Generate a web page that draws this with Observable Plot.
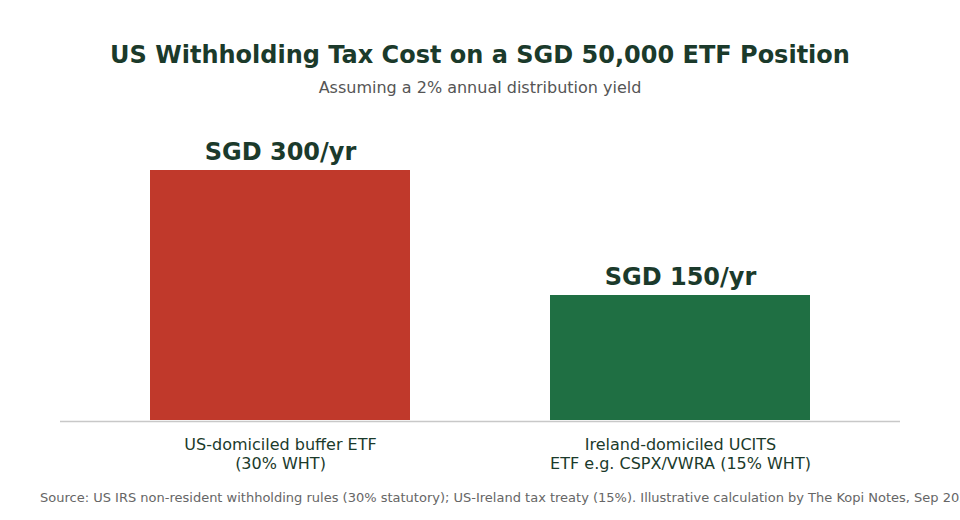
<!DOCTYPE html>
<html>
<head>
<meta charset="utf-8">
<script src="https://cdn.jsdelivr.net/npm/d3@7"></script>
<script src="https://cdn.jsdelivr.net/npm/@observablehq/plot@0.6"></script>
<style>
  html, body { margin: 0; padding: 0; background: #fff; width: 960px; height: 520px; overflow: hidden; }
  body { font-family: "DejaVu Sans", sans-serif; }
  #title { margin-top: 40px; height: 30px; line-height: 30px; text-align: center; font-size: 24px; font-weight: bold; color: #1b3a2b; }
  #subtitle { margin-top: 8px; height: 20px; line-height: 20px; text-align: center; font-size: 16px; color: #555; }
  #chart { height: 380px; margin-top: 2px; }
  #source { margin-left: 40px; height: 20px; line-height: 20px; font-size: 13px; color: #666; white-space: nowrap; margin-top: 8px; }
</style>
</head>
<body>
<div id="title">US Withholding Tax Cost on a SGD 50,000 ETF Position</div>
<div id="subtitle">Assuming a 2% annual distribution yield</div>
<div id="chart"></div>
<div id="source">Source: US IRS non-resident withholding rules (30% statutory); US-Ireland tax treaty (15%). Illustrative calculation by The Kopi Notes, Sep 2025</div>
<script>
const categories = ["US-domiciled buffer ETF\n(30% WHT)", "Ireland-domiciled UCITS\nETF e.g. CSPX/VWRA (15% WHT)"];
const values = [300, 150];
const valueLabels = ["SGD 300/yr", "SGD 150/yr"];
const colors = ["#c0392b", "#1f6f43"];

const data = categories.map((c, i) => ({category: c, value: values[i], label: valueLabels[i], color: colors[i]}));

const chart = Plot.plot({
  width: 960,
  height: 380,
  marginLeft: 60,
  marginRight: 60,
  marginTop: 20,
  marginBottom: 60,
  style: {fontFamily: "DejaVu Sans, sans-serif", background: "white"},
  x: {domain: categories, paddingInner: 0.35, paddingOuter: 0.225, label: null},
  y: {domain: [0, 360], axis: null},
  marks: [
    Plot.barY(data, {x: "category", y: "value", fill: "color"}),
    Plot.ruleY([0], {stroke: "#c8c8c8", strokeWidth: 1.5, dy: 1}),
    Plot.text(data, {x: "category", y: "value", text: "label", dy: -18, fontSize: 24, fontWeight: "bold", fill: "#1b3a2b"}),
    Plot.axisX({tickSize: 0, tickPadding: 16, fontSize: 16, lineHeight: 1.2, color: "#1b3a2b", fill: "#1b3a2b", label: null})
  ]
});
document.getElementById("chart").appendChild(chart);
</script>
</body>
</html>
